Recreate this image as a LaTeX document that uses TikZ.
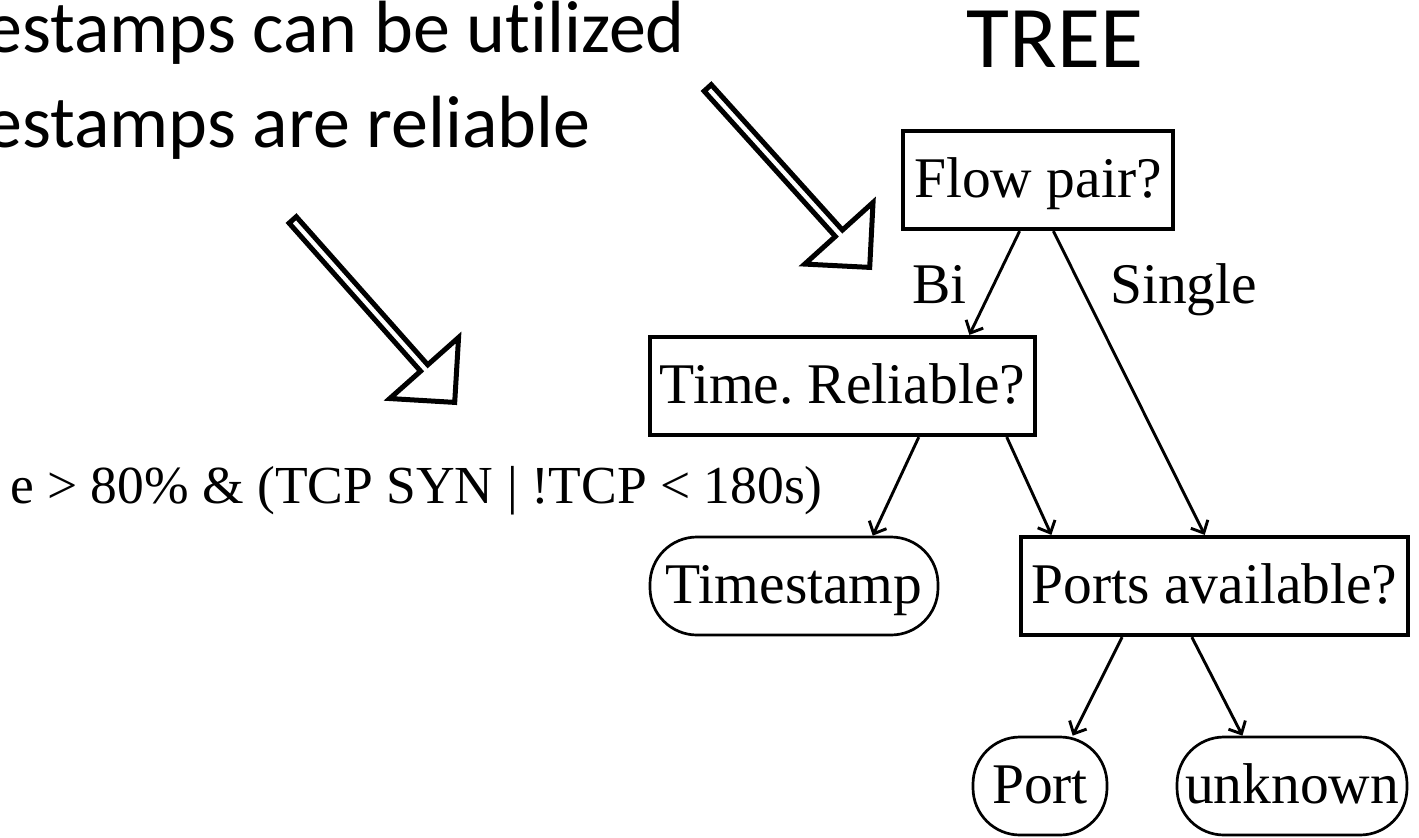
\documentclass[tikz,border=0pt]{standalone}
\usepackage{fontspec}
\setmainfont{Liberation Serif}
\newfontfamily\slidefont[Ligatures={NoCommon}]{Carlito}
\usetikzlibrary{calc,arrows.meta}
\frenchspacing

\tikzset{
  nodefont/.style={font=\fontsize{57.5}{68}\selectfont},
  question/.style={draw, line width=4.2pt, minimum height=98pt,
    text height=44pt, text depth=10pt, inner xsep=0pt, nodefont},
  leaf/.style={draw, line width=2.7pt, rounded corners=47pt, minimum height=98pt,
    text height=44pt, text depth=10pt, inner xsep=0pt, nodefont},
  edge/.style={line width=2.9pt, -{Straight Barb[length=10pt,width=19pt]}},
  lbl/.style={anchor=base west, inner sep=0pt, nodefont},
  hollow/.style={draw, line width=5pt, line join=miter},
  slide/.style={anchor=base west, inner sep=0pt, font=\slidefont\fontsize{74}{88}\selectfont},
}

% hollow block arrow from tail coordinate #1 to tip coordinate #2
\newcommand\hollowarrow[2]{%
  \coordinate (#1-base) at ($(#2)!46pt!(#1)$);
  \draw[hollow]
    ($(#1)!4.8pt!90:(#2)$) -- ($(#1-base)!4.8pt!-90:(#1)$)
    -- ($(#1-base)!46pt!-90:(#1)$) -- (#2)
    -- ($(#1-base)!46pt!90:(#1)$) -- ($(#1-base)!4.8pt!90:(#1)$)
    -- ($(#1)!4.8pt!-90:(#2)$) -- cycle;
}

\begin{document}
\begin{tikzpicture}[x=1pt,y=-1pt]
\useasboundingbox[fill=white] (0,0) rectangle (1419,838);

% slide text
\node[slide] (line1) at (-15,52) {estamps can be utilized};
\node[slide] (line2) at (-15,147) {estamps are reliable};
\node[anchor=base, inner sep=0pt, font=\slidefont\fontsize{88}{104}\selectfont] (title) at (1055,67) {TREE};

% hollow pointer arrows
\coordinate (ptrA) at (292.7,219.9);
\coordinate (ptrAtip) at (454.7,402.4);
\coordinate (ptrB) at (707.7,87.9);
\coordinate (ptrBtip) at (869.7,267.4);
\hollowarrow{ptrA}{ptrAtip}
\hollowarrow{ptrB}{ptrBtip}

% decision tree
\node[question, minimum width=270pt] (flow) at (1038,180) {Flow pair?};
\node[question, minimum width=385pt] (time) at (842.5,386) {Time. Reliable?};
\node[question, minimum width=387pt] (ports) at (1214.5,586) {Ports available?};
\node[leaf, minimum width=288pt] (stamp) at (794,586) {Timestamp};
\node[leaf, minimum width=134pt] (port) at (1040,786) {Port};
\node[leaf, minimum width=230pt] (unk) at (1292,786) {unknown};

\node[lbl] (bi) at (912,303) {Bi};
\node[lbl] (single) at (1110,303) {Single};

\node[anchor=base west, inner sep=0pt, font=\fontsize{53.5}{64}\selectfont] (cond) at (10,503)
  {e > 80\% \& (TCP SYN | !TCP < 180s)};

\draw[edge] ($(flow.south west)!0.433!(flow.south east)$) -- ($(time.north west)!0.826!(time.north east)$);
\draw[edge] ($(flow.south west)!0.556!(flow.south east)$) -- ($(ports.north west)!0.475!(ports.north east)$);
\draw[edge] ($(time.south west)!0.696!(time.south east)$) -- ($(stamp.north west)!0.771!(stamp.north east)$);
\draw[edge] ($(time.south west)!0.922!(time.south east)$) -- ($(ports.north west)!0.083!(ports.north east)$);
\draw[edge] ($(ports.south west)!0.264!(ports.south east)$) -- ($(port.north west)!0.739!(port.north east)$);
\draw[edge] ($(ports.south west)!0.442!(ports.south east)$) -- ($(unk.north west)!0.287!(unk.north east)$);
\end{tikzpicture}
\end{document}
